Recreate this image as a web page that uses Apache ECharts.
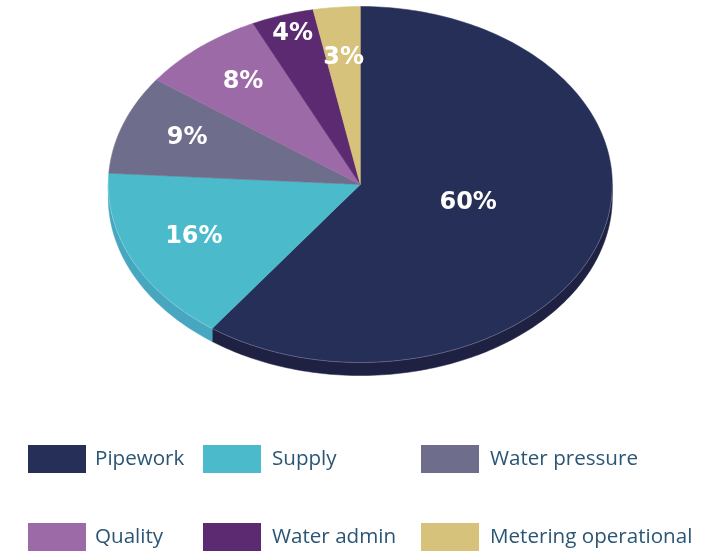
<!DOCTYPE html>
<html>
<head>
<meta charset="utf-8">
<script src="https://cdn.jsdelivr.net/npm/echarts@6/dist/echarts.min.js"></script>
<style>
  html, body { margin: 0; padding: 0; background: #ffffff; }
  #chart { width: 722px; height: 554px; }
</style>
</head>
<body>
<div id="chart"></div>
<script>
// Share of complaints by category (percent)
const categories = ['Pipework', 'Supply', 'Water pressure', 'Quality', 'Water admin', 'Metering operational'];
const shares = [60, 16, 9, 8, 4, 3];

// Top-face and rim colours of each slice
const topColors = ['#262f58', '#4bbbcb', '#6f6d8c', '#9d6aa8', '#5b2a70', '#d7c27b'];
const sideColors = ['#1f2142', '#47a6c0', '#5d5b78', '#85578f', '#4a215c', '#b9a566'];

const total = shares.reduce((a, b) => a + b, 0);
const cumulative = shares.map((_, i) => shares.slice(0, i).reduce((a, b) => a + b, 0));

// Tilted pie geometry
const PIE = { cx: 360.3, cy: 184.5, rx: 252, ry: 178, depth: 13 };

function rimPoint(t, dy) {
  return [PIE.cx + PIE.rx * Math.sin(t), PIE.cy - PIE.ry * Math.cos(t) + (dy || 0)];
}

function arcPoints(a0, a1, dy) {
  const pts = [];
  const steps = Math.max(4, Math.ceil((a1 - a0) / (Math.PI / 180)));
  for (let k = 0; k <= steps; k++) {
    pts.push(rimPoint(a0 + (a1 - a0) * k / steps, dy));
  }
  return pts;
}

// Radial position of a slice label: the big slice keeps its label near the
// middle, and neighbouring thin slices stagger theirs so they do not collide.
function labelRadius(i) {
  const frac = shares[i] / total;
  if (frac > 0.5) return 0.45;
  if (frac < 0.05) {
    const prevSmall = i > 0 && shares[i - 1] / total < 0.05;
    return prevSmall ? 0.70 : 0.87;
  }
  return 0.73;
}

function renderSlice(params, api) {
  const i = params.seriesIndex;
  const value = api.value(0);
  const a0 = cumulative[i] / total * Math.PI * 2;
  const a1 = a0 + value / total * Math.PI * 2;
  const children = [];

  // Visible rim: the part of the arc facing the viewer (lower half)
  const s = Math.max(a0, Math.PI / 2);
  const e = Math.min(a1, Math.PI * 1.5);
  if (e > s) {
    const upper = arcPoints(s, e, 0);
    const lower = arcPoints(s, e, PIE.depth).reverse();
    children.push({
      type: 'polygon',
      shape: { points: upper.concat(lower) },
      style: { fill: sideColors[i], stroke: sideColors[i], lineWidth: 0.5 },
      z2: 1
    });
    children.push({
      type: 'polyline',
      shape: { points: upper },
      style: { fill: null, stroke: 'rgba(255,255,255,0.22)', lineWidth: 1 },
      z2: 3
    });
  }

  // Top face
  children.push({
    type: 'polygon',
    shape: { points: [[PIE.cx, PIE.cy]].concat(arcPoints(a0, a1, 0)) },
    style: { fill: topColors[i], stroke: topColors[i], lineWidth: 0.5 },
    z2: 2
  });

  // Percentage label
  const mid = (a0 + a1) / 2;
  const f = labelRadius(i);
  const lift = value / total > 0.5 ? 6 : 3;
  const lp = [PIE.cx + PIE.rx * f * Math.sin(mid), PIE.cy - PIE.ry * f * Math.cos(mid) - lift];
  children.push({
    type: 'text',
    x: lp[0],
    y: lp[1],
    style: {
      text: Math.round(value / total * 100) + '%',
      fill: '#ffffff',
      font: 'bold 24px "DejaVu Sans", sans-serif',
      align: 'center',
      verticalAlign: 'middle'
    },
    z2: 4
  });

  return { type: 'group', children: children };
}

const series = categories.map((name, i) => ({
  type: 'custom',
  name: name,
  coordinateSystem: 'none',
  itemStyle: { color: topColors[i] },
  data: [[shares[i]]],
  renderItem: renderSlice,
  silent: true,
  animation: false
}));

// Legend laid out as a 3 x 2 grid
const colLeft = [28, 203, 421];
const rowTop = [445, 523];
const legends = categories.map((name, i) => {
  const col = i % 3;
  const row = Math.floor(i / 3);
  return {
    data: [name],
    left: colLeft[col],
    top: rowTop[row],
    padding: 0,
    orient: 'horizontal',
    icon: 'rect',
    itemWidth: 58,
    itemHeight: 28,
    selectedMode: false,
    textStyle: {
      fontFamily: '"Open Sans", sans-serif',
      fontSize: 20.6,
      color: '#2a5575',
      padding: [col === 0 ? 0 : 9, 0, 0, col === 0 ? 4 : 6]
    }
  };
});

const chart = echarts.init(document.getElementById('chart'), null, { renderer: 'canvas' });
chart.setOption({
  backgroundColor: '#ffffff',
  animation: false,
  legend: legends,
  series: series
});
</script>
</body>
</html>
